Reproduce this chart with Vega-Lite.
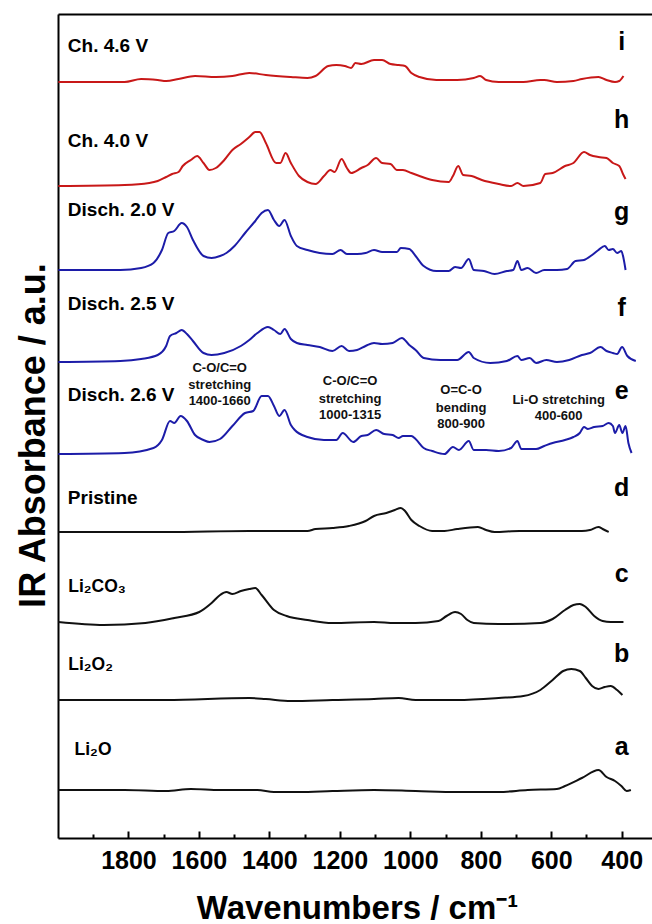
{
  "$schema": "https://vega.github.io/schema/vega-lite/v6.json",
  "width": 594,
  "height": 824,
  "autosize": {"type": "none"},
  "padding": {"left": 58, "top": 14, "right": 0, "bottom": 86},
  "background": "white",
  "config": {"font": "Liberation Sans", "view": {"stroke": null}},
  "datasets": {
    "spectra": [
      {"series":"i","wn":1999,"abs":756},{"series":"i","wn":1811,"abs":756},{"series":"i","wn":1764,"abs":759},{"series":"i","wn":1717,"abs":758},{"series":"i","wn":1693,"abs":757},{"series":"i","wn":1658,"abs":759},{"series":"i","wn":1611,"abs":762},{"series":"i","wn":1552,"abs":761},{"series":"i","wn":1505,"abs":762},{"series":"i","wn":1457,"abs":765},{"series":"i","wn":1410,"abs":763},{"series":"i","wn":1339,"abs":761},{"series":"i","wn":1292,"abs":760},{"series":"i","wn":1269,"abs":762},{"series":"i","wn":1233,"abs":772},{"series":"i","wn":1210,"abs":773},{"series":"i","wn":1186,"abs":772},{"series":"i","wn":1168,"abs":770},{"series":"i","wn":1156,"abs":775},{"series":"i","wn":1139,"abs":774},{"series":"i","wn":1103,"abs":778},{"series":"i","wn":1080,"abs":778},{"series":"i","wn":1056,"abs":774},{"series":"i","wn":1033,"abs":773},{"series":"i","wn":1015,"abs":772},{"series":"i","wn":997,"abs":765},{"series":"i","wn":974,"abs":761},{"series":"i","wn":926,"abs":758},{"series":"i","wn":867,"abs":758},{"series":"i","wn":820,"abs":760},{"series":"i","wn":802,"abs":762},{"series":"i","wn":785,"abs":758},{"series":"i","wn":749,"abs":756},{"series":"i","wn":679,"abs":756},{"series":"i","wn":631,"abs":758},{"series":"i","wn":620,"abs":758},{"series":"i","wn":584,"abs":756},{"series":"i","wn":537,"abs":757},{"series":"i","wn":513,"abs":759},{"series":"i","wn":466,"abs":761},{"series":"i","wn":443,"abs":758},{"series":"i","wn":419,"abs":756},{"series":"i","wn":407,"abs":757},{"series":"i","wn":395,"abs":762},
      {"series":"h","wn":1999,"abs":652},{"series":"h","wn":1811,"abs":653},{"series":"h","wn":1741,"abs":655},{"series":"h","wn":1717,"abs":657},{"series":"h","wn":1693,"abs":661},{"series":"h","wn":1676,"abs":664},{"series":"h","wn":1658,"abs":666},{"series":"h","wn":1646,"abs":672},{"series":"h","wn":1623,"abs":678},{"series":"h","wn":1605,"abs":682},{"series":"h","wn":1587,"abs":675},{"series":"h","wn":1570,"abs":668},{"series":"h","wn":1552,"abs":670},{"series":"h","wn":1528,"abs":678},{"series":"h","wn":1505,"abs":688},{"series":"h","wn":1481,"abs":694},{"series":"h","wn":1457,"abs":701},{"series":"h","wn":1440,"abs":706},{"series":"h","wn":1428,"abs":706},{"series":"h","wn":1410,"abs":695},{"series":"h","wn":1381,"abs":675},{"series":"h","wn":1369,"abs":675},{"series":"h","wn":1354,"abs":685},{"series":"h","wn":1339,"abs":675},{"series":"h","wn":1316,"abs":662},{"series":"h","wn":1292,"abs":656},{"series":"h","wn":1269,"abs":654},{"series":"h","wn":1245,"abs":662},{"series":"h","wn":1227,"abs":668},{"series":"h","wn":1215,"abs":666},{"series":"h","wn":1195,"abs":679},{"series":"h","wn":1180,"abs":670},{"series":"h","wn":1168,"abs":665},{"series":"h","wn":1139,"abs":670},{"series":"h","wn":1121,"abs":673},{"series":"h","wn":1097,"abs":680},{"series":"h","wn":1080,"abs":675},{"series":"h","wn":1056,"abs":674},{"series":"h","wn":1038,"abs":668},{"series":"h","wn":1021,"abs":668},{"series":"h","wn":997,"abs":665},{"series":"h","wn":974,"abs":662},{"series":"h","wn":938,"abs":658},{"series":"h","wn":891,"abs":656},{"series":"h","wn":879,"abs":662},{"series":"h","wn":864,"abs":672},{"series":"h","wn":850,"abs":663},{"series":"h","wn":826,"abs":662},{"series":"h","wn":797,"abs":658},{"series":"h","wn":749,"abs":654},{"series":"h","wn":714,"abs":652},{"series":"h","wn":696,"abs":655},{"series":"h","wn":679,"abs":652},{"series":"h","wn":631,"abs":655},{"series":"h","wn":617,"abs":664},{"series":"h","wn":596,"abs":665},{"series":"h","wn":561,"abs":672},{"series":"h","wn":537,"abs":675},{"series":"h","wn":507,"abs":686},{"series":"h","wn":490,"abs":683},{"series":"h","wn":466,"abs":681},{"series":"h","wn":443,"abs":680},{"series":"h","wn":425,"abs":675},{"series":"h","wn":407,"abs":672},{"series":"h","wn":395,"abs":663},{"series":"h","wn":389,"abs":659},
      {"series":"g","wn":1999,"abs":568},{"series":"g","wn":1823,"abs":568},{"series":"g","wn":1764,"abs":570},{"series":"g","wn":1729,"abs":575},{"series":"g","wn":1705,"abs":588},{"series":"g","wn":1687,"abs":605},{"series":"g","wn":1670,"abs":607},{"series":"g","wn":1649,"abs":615},{"series":"g","wn":1634,"abs":611},{"series":"g","wn":1617,"abs":598},{"series":"g","wn":1587,"abs":582},{"series":"g","wn":1564,"abs":580},{"series":"g","wn":1540,"abs":582},{"series":"g","wn":1522,"abs":585},{"series":"g","wn":1499,"abs":592},{"series":"g","wn":1469,"abs":605},{"series":"g","wn":1440,"abs":617},{"series":"g","wn":1422,"abs":625},{"series":"g","wn":1404,"abs":628},{"series":"g","wn":1387,"abs":618},{"series":"g","wn":1372,"abs":612},{"series":"g","wn":1357,"abs":618},{"series":"g","wn":1339,"abs":602},{"series":"g","wn":1322,"abs":592},{"series":"g","wn":1292,"abs":588},{"series":"g","wn":1257,"abs":585},{"series":"g","wn":1221,"abs":584},{"series":"g","wn":1198,"abs":588},{"series":"g","wn":1180,"abs":584},{"series":"g","wn":1151,"abs":584},{"series":"g","wn":1127,"abs":585},{"series":"g","wn":1103,"abs":588},{"series":"g","wn":1080,"abs":586},{"series":"g","wn":1056,"abs":586},{"series":"g","wn":1038,"abs":586},{"series":"g","wn":1027,"abs":590},{"series":"g","wn":1003,"abs":589},{"series":"g","wn":985,"abs":582},{"series":"g","wn":962,"abs":572},{"series":"g","wn":926,"abs":567},{"series":"g","wn":891,"abs":567},{"series":"g","wn":873,"abs":571},{"series":"g","wn":856,"abs":570},{"series":"g","wn":834,"abs":579},{"series":"g","wn":820,"abs":568},{"series":"g","wn":791,"abs":567},{"series":"g","wn":761,"abs":564},{"series":"g","wn":726,"abs":567},{"series":"g","wn":708,"abs":568},{"series":"g","wn":696,"abs":577},{"series":"g","wn":685,"abs":568},{"series":"g","wn":667,"abs":570},{"series":"g","wn":643,"abs":565},{"series":"g","wn":620,"abs":568},{"series":"g","wn":584,"abs":568},{"series":"g","wn":555,"abs":569},{"series":"g","wn":531,"abs":577},{"series":"g","wn":507,"abs":578},{"series":"g","wn":484,"abs":583},{"series":"g","wn":466,"abs":588},{"series":"g","wn":448,"abs":592},{"series":"g","wn":437,"abs":588},{"series":"g","wn":425,"abs":589},{"series":"g","wn":413,"abs":585},{"series":"g","wn":401,"abs":587},{"series":"g","wn":395,"abs":580},{"series":"g","wn":389,"abs":568},
      {"series":"f","wn":1999,"abs":476},{"series":"f","wn":1823,"abs":477},{"series":"f","wn":1764,"abs":479},{"series":"f","wn":1717,"abs":483},{"series":"f","wn":1693,"abs":492},{"series":"f","wn":1682,"abs":502},{"series":"f","wn":1664,"abs":505},{"series":"f","wn":1649,"abs":508},{"series":"f","wn":1634,"abs":504},{"series":"f","wn":1617,"abs":497},{"series":"f","wn":1587,"abs":485},{"series":"f","wn":1564,"abs":483},{"series":"f","wn":1528,"abs":485},{"series":"f","wn":1481,"abs":492},{"series":"f","wn":1457,"abs":498},{"series":"f","wn":1434,"abs":505},{"series":"f","wn":1404,"abs":511},{"series":"f","wn":1387,"abs":508},{"series":"f","wn":1369,"abs":504},{"series":"f","wn":1357,"abs":509},{"series":"f","wn":1339,"abs":499},{"series":"f","wn":1322,"abs":495},{"series":"f","wn":1292,"abs":493},{"series":"f","wn":1257,"abs":491},{"series":"f","wn":1221,"abs":487},{"series":"f","wn":1195,"abs":492},{"series":"f","wn":1174,"abs":487},{"series":"f","wn":1151,"abs":488},{"series":"f","wn":1127,"abs":492},{"series":"f","wn":1103,"abs":495},{"series":"f","wn":1080,"abs":494},{"series":"f","wn":1050,"abs":495},{"series":"f","wn":1024,"abs":500},{"series":"f","wn":1003,"abs":493},{"series":"f","wn":985,"abs":488},{"series":"f","wn":962,"abs":480},{"series":"f","wn":915,"abs":478},{"series":"f","wn":867,"abs":478},{"series":"f","wn":834,"abs":486},{"series":"f","wn":820,"abs":480},{"series":"f","wn":773,"abs":475},{"series":"f","wn":726,"abs":477},{"series":"f","wn":696,"abs":482},{"series":"f","wn":685,"abs":478},{"series":"f","wn":661,"abs":480},{"series":"f","wn":643,"abs":475},{"series":"f","wn":614,"abs":478},{"series":"f","wn":584,"abs":476},{"series":"f","wn":549,"abs":478},{"series":"f","wn":513,"abs":483},{"series":"f","wn":490,"abs":485},{"series":"f","wn":460,"abs":491},{"series":"f","wn":443,"abs":487},{"series":"f","wn":425,"abs":485},{"series":"f","wn":413,"abs":484},{"series":"f","wn":399,"abs":491},{"series":"f","wn":384,"abs":482},{"series":"f","wn":360,"abs":477},
      {"series":"e","wn":1999,"abs":384},{"series":"e","wn":1811,"abs":385},{"series":"e","wn":1729,"abs":390},{"series":"e","wn":1705,"abs":398},{"series":"e","wn":1682,"abs":417},{"series":"e","wn":1670,"abs":415},{"series":"e","wn":1652,"abs":422},{"series":"e","wn":1634,"abs":417},{"series":"e","wn":1611,"abs":403},{"series":"e","wn":1587,"abs":398},{"series":"e","wn":1570,"abs":396},{"series":"e","wn":1540,"abs":399},{"series":"e","wn":1505,"abs":412},{"series":"e","wn":1469,"abs":425},{"series":"e","wn":1446,"abs":427},{"series":"e","wn":1422,"abs":442},{"series":"e","wn":1404,"abs":442},{"series":"e","wn":1387,"abs":432},{"series":"e","wn":1372,"abs":422},{"series":"e","wn":1357,"abs":428},{"series":"e","wn":1339,"abs":413},{"series":"e","wn":1328,"abs":408},{"series":"e","wn":1292,"abs":401},{"series":"e","wn":1245,"abs":398},{"series":"e","wn":1210,"abs":398},{"series":"e","wn":1192,"abs":405},{"series":"e","wn":1162,"abs":396},{"series":"e","wn":1139,"abs":402},{"series":"e","wn":1121,"abs":403},{"series":"e","wn":1097,"abs":408},{"series":"e","wn":1074,"abs":404},{"series":"e","wn":1050,"abs":403},{"series":"e","wn":1033,"abs":400},{"series":"e","wn":1021,"abs":402},{"series":"e","wn":997,"abs":402},{"series":"e","wn":985,"abs":399},{"series":"e","wn":962,"abs":390},{"series":"e","wn":938,"abs":387},{"series":"e","wn":903,"abs":384},{"series":"e","wn":879,"abs":391},{"series":"e","wn":862,"abs":388},{"series":"e","wn":834,"abs":397},{"series":"e","wn":820,"abs":388},{"series":"e","wn":785,"abs":388},{"series":"e","wn":749,"abs":387},{"series":"e","wn":714,"abs":390},{"series":"e","wn":696,"abs":397},{"series":"e","wn":685,"abs":389},{"series":"e","wn":643,"abs":389},{"series":"e","wn":620,"abs":392},{"series":"e","wn":596,"abs":395},{"series":"e","wn":561,"abs":398},{"series":"e","wn":537,"abs":401},{"series":"e","wn":519,"abs":405},{"series":"e","wn":507,"abs":411},{"series":"e","wn":496,"abs":409},{"series":"e","wn":478,"abs":411},{"series":"e","wn":454,"abs":412},{"series":"e","wn":437,"abs":415},{"series":"e","wn":425,"abs":412},{"series":"e","wn":419,"abs":405},{"series":"e","wn":407,"abs":413},{"series":"e","wn":398,"abs":405},{"series":"e","wn":389,"abs":412},{"series":"e","wn":381,"abs":395},{"series":"e","wn":372,"abs":385},
      {"series":"d","wn":1999,"abs":306},{"series":"d","wn":1693,"abs":306},{"series":"d","wn":1457,"abs":307},{"series":"d","wn":1292,"abs":307},{"series":"d","wn":1269,"abs":309},{"series":"d","wn":1221,"abs":310},{"series":"d","wn":1174,"abs":312},{"series":"d","wn":1127,"abs":317},{"series":"d","wn":1103,"abs":322},{"series":"d","wn":1068,"abs":325},{"series":"d","wn":1044,"abs":328},{"series":"d","wn":1027,"abs":330},{"series":"d","wn":1015,"abs":327},{"series":"d","wn":997,"abs":318},{"series":"d","wn":974,"abs":312},{"series":"d","wn":938,"abs":307},{"series":"d","wn":903,"abs":307},{"series":"d","wn":867,"abs":309},{"series":"d","wn":808,"abs":311},{"series":"d","wn":785,"abs":308},{"series":"d","wn":761,"abs":306},{"series":"d","wn":690,"abs":307},{"series":"d","wn":631,"abs":307},{"series":"d","wn":513,"abs":307},{"series":"d","wn":490,"abs":308},{"series":"d","wn":466,"abs":311},{"series":"d","wn":454,"abs":309},{"series":"d","wn":437,"abs":306},
      {"series":"c","wn":1999,"abs":216},{"series":"c","wn":1870,"abs":213},{"series":"c","wn":1752,"abs":215},{"series":"c","wn":1670,"abs":220},{"series":"c","wn":1599,"abs":226},{"series":"c","wn":1564,"abs":235},{"series":"c","wn":1540,"abs":243},{"series":"c","wn":1522,"abs":246},{"series":"c","wn":1505,"abs":244},{"series":"c","wn":1481,"abs":247},{"series":"c","wn":1457,"abs":249},{"series":"c","wn":1440,"abs":250},{"series":"c","wn":1422,"abs":243},{"series":"c","wn":1387,"abs":228},{"series":"c","wn":1351,"abs":222},{"series":"c","wn":1292,"abs":218},{"series":"c","wn":1221,"abs":215},{"series":"c","wn":1103,"abs":216},{"series":"c","wn":1044,"abs":215},{"series":"c","wn":985,"abs":215},{"series":"c","wn":920,"abs":217},{"series":"c","wn":897,"abs":222},{"series":"c","wn":873,"abs":226},{"series":"c","wn":856,"abs":224},{"series":"c","wn":838,"abs":218},{"series":"c","wn":820,"abs":215},{"series":"c","wn":749,"abs":214},{"series":"c","wn":631,"abs":215},{"series":"c","wn":596,"abs":219},{"series":"c","wn":561,"abs":228},{"series":"c","wn":537,"abs":233},{"series":"c","wn":519,"abs":234},{"series":"c","wn":502,"abs":231},{"series":"c","wn":478,"abs":222},{"series":"c","wn":454,"abs":217},{"series":"c","wn":431,"abs":216},{"series":"c","wn":395,"abs":216},
      {"series":"b","wn":1999,"abs":138},{"series":"b","wn":1693,"abs":138},{"series":"b","wn":1457,"abs":140},{"series":"b","wn":1410,"abs":139},{"series":"b","wn":1339,"abs":137},{"series":"b","wn":1221,"abs":138},{"series":"b","wn":1103,"abs":139},{"series":"b","wn":1033,"abs":140},{"series":"b","wn":985,"abs":138},{"series":"b","wn":867,"abs":138},{"series":"b","wn":749,"abs":140},{"series":"b","wn":679,"abs":142},{"series":"b","wn":631,"abs":148},{"series":"b","wn":596,"abs":158},{"series":"b","wn":566,"abs":167},{"series":"b","wn":543,"abs":169},{"series":"b","wn":519,"abs":167},{"series":"b","wn":502,"abs":160},{"series":"b","wn":484,"abs":152},{"series":"b","wn":466,"abs":149},{"series":"b","wn":448,"abs":151},{"series":"b","wn":431,"abs":152},{"series":"b","wn":413,"abs":148},{"series":"b","wn":398,"abs":143},
      {"series":"a","wn":1999,"abs":48},{"series":"a","wn":1811,"abs":48},{"series":"a","wn":1693,"abs":47},{"series":"a","wn":1623,"abs":49},{"series":"a","wn":1540,"abs":48},{"series":"a","wn":1434,"abs":48},{"series":"a","wn":1387,"abs":46},{"series":"a","wn":1316,"abs":46},{"series":"a","wn":1221,"abs":47},{"series":"a","wn":1103,"abs":48},{"series":"a","wn":985,"abs":47},{"series":"a","wn":867,"abs":46},{"series":"a","wn":749,"abs":46},{"series":"a","wn":667,"abs":48},{"series":"a","wn":584,"abs":49},{"series":"a","wn":561,"abs":52},{"series":"a","wn":513,"abs":60},{"series":"a","wn":466,"abs":68},{"series":"a","wn":443,"abs":61},{"series":"a","wn":419,"abs":57},{"series":"a","wn":401,"abs":52},{"series":"a","wn":386,"abs":47},{"series":"a","wn":374,"abs":48}
    ],
    "names": [
      {"wn":1972,"abs":786,"label":"Ch. 4.6 V"},
      {"wn":1972,"abs":691,"label":"Ch. 4.0 V"},
      {"wn":1972,"abs":622,"label":"Disch. 2.0 V"},
      {"wn":1972,"abs":528,"label":"Disch. 2.5 V"},
      {"wn":1972,"abs":437,"label":"Disch. 2.6 V"},
      {"wn":1972,"abs":334,"label":"Pristine"}
    ],
    "formulas": [
      {"wn":1971,"abs":246,"label":"Li₂CO₃"},
      {"wn":1971,"abs":168,"label":"Li₂O₂"},
      {"wn":1953,"abs":83,"label":"Li₂O"}
    ],
    "letters": [
      {"wn":400,"abs":788,"label":"i"},
      {"wn":400,"abs":710,"label":"h"},
      {"wn":400,"abs":618,"label":"g"},
      {"wn":400,"abs":522,"label":"f"},
      {"wn":400,"abs":439,"label":"e"},
      {"wn":400,"abs":342,"label":"d"},
      {"wn":400,"abs":256,"label":"c"},
      {"wn":400,"abs":176,"label":"b"},
      {"wn":400,"abs":83,"label":"a"}
    ],
    "notes": [
      {"wn":1541,"abs":470,"label":"C-O/C=O"},
      {"wn":1541,"abs":453,"label":"stretching"},
      {"wn":1541,"abs":437,"label":"1400-1660"},
      {"wn":1171,"abs":457,"label":"C-O/C=O"},
      {"wn":1171,"abs":439,"label":"stretching"},
      {"wn":1171,"abs":423,"label":"1000-1315"},
      {"wn":856,"abs":448,"label":"O=C-O"},
      {"wn":856,"abs":430,"label":"bending"},
      {"wn":856,"abs":414,"label":"800-900"},
      {"wn":579,"abs":438,"label":"Li-O stretching"},
      {"wn":579,"abs":422,"label":"400-600"}
    ]
  },
  "layer": [
    {
      "data": {"name": "spectra"},
      "mark": {"type": "line", "strokeWidth": 2, "interpolate": "monotone"},
      "encoding": {
        "x": {
          "field": "wn", "type": "quantitative",
          "scale": {"domain": [314, 2000], "reverse": true, "nice": false, "zero": false},
          "axis": {
            "orient": "bottom",
            "values": [1800,1600,1400,1200,1000,800,600,400],
            "format": "d",
            "tickSize": -7, "tickWidth": 2, "tickColor": "black",
            "domain": true, "domainColor": "black", "domainWidth": 2,
            "grid": false,
            "labelFont": "Liberation Sans", "labelFontSize": 25, "labelFontWeight": "bold", "labelColor": "black",
            "labelBaseline": "alphabetic", "labelPadding": 37, "labelFlush": false, "labelOverlap": false,
            "title": "Wavenumbers / cm⁻¹",
            "titleFont": "Liberation Sans", "titleFontSize": 33, "titleFontWeight": "bold", "titleColor": "black",
            "titleBaseline": "alphabetic", "titleAlign": "center", "titleX": 299, "titleY": 80
          }
        },
        "y": {
          "field": "abs", "type": "quantitative",
          "scale": {"domain": [0, 824], "nice": false, "zero": false},
          "axis": {
            "orient": "left",
            "ticks": false, "labels": false, "grid": false,
            "domain": true, "domainColor": "black", "domainWidth": 2,
            "title": "IR Absorbance / a.u.",
            "titleFont": "Liberation Sans", "titleFontSize": 36, "titleFontWeight": "bold", "titleColor": "black",
            "titleAngle": -90, "titleAlign": "center", "titleBaseline": "alphabetic", "titleX": -14, "titleY": 421
          }
        },
        "color": {
          "field": "series", "type": "nominal",
          "scale": {"domain": ["i","h","g","f","e","d","c","b","a"], "range": ["#c81818","#c81818","#1c1ca8","#1c1ca8","#1c1ca8","#111111","#111111","#111111","#111111"]},
          "legend": null
        }
      }
    },
    {
      "data": {"name": "names"},
      "mark": {"type": "text", "align": "left", "baseline": "alphabetic", "font": "Liberation Sans", "fontSize": 19, "fontWeight": "bold", "color": "black"},
      "encoding": {
        "x": {"field": "wn", "type": "quantitative", "scale": {"domain": [314, 2000], "reverse": true, "nice": false, "zero": false},
              "axis": {"orient": "top", "labels": false, "ticks": false, "grid": false, "domain": true, "domainColor": "black", "domainWidth": 2, "title": null}},
        "y": {"field": "abs", "type": "quantitative", "scale": {"domain": [0, 824], "nice": false, "zero": false}, "axis": null},
        "text": {"field": "label", "type": "nominal"}
      }
    },
    {
      "data": {"name": "formulas"},
      "mark": {"type": "text", "align": "left", "baseline": "alphabetic", "font": "Liberation Sans", "fontSize": 17.5, "fontWeight": "bold", "color": "black"},
      "encoding": {
        "x": {"field": "wn", "type": "quantitative", "scale": {"domain": [314, 2000], "reverse": true, "nice": false, "zero": false},
              "axis": {"orient": "bottom", "values": [1900,1700,1500,1300,1100,900,700,500], "labels": false, "tickSize": -4, "tickWidth": 2, "tickColor": "black", "domain": false, "grid": false, "title": null}},
        "y": {"field": "abs", "type": "quantitative", "scale": {"domain": [0, 824], "nice": false, "zero": false}, "axis": null},
        "text": {"field": "label", "type": "nominal"}
      }
    },
    {
      "data": {"name": "letters"},
      "mark": {"type": "text", "align": "center", "baseline": "alphabetic", "font": "Liberation Sans", "fontSize": 25, "fontWeight": "bold", "color": "black"},
      "encoding": {
        "x": {"field": "wn", "type": "quantitative", "scale": {"domain": [314, 2000], "reverse": true, "nice": false, "zero": false}, "axis": null},
        "y": {"field": "abs", "type": "quantitative", "scale": {"domain": [0, 824], "nice": false, "zero": false}, "axis": null},
        "text": {"field": "label", "type": "nominal"}
      }
    },
    {
      "data": {"name": "notes"},
      "mark": {"type": "text", "align": "center", "baseline": "middle", "font": "Liberation Sans", "fontSize": 13, "fontWeight": "bold", "color": "#111111"},
      "encoding": {
        "x": {"field": "wn", "type": "quantitative", "scale": {"domain": [314, 2000], "reverse": true, "nice": false, "zero": false}, "axis": null},
        "y": {"field": "abs", "type": "quantitative", "scale": {"domain": [0, 824], "nice": false, "zero": false}, "axis": null},
        "text": {"field": "label", "type": "nominal"}
      }
    }
  ],
  "resolve": {"axis": {"x": "independent", "y": "independent"}}
}
